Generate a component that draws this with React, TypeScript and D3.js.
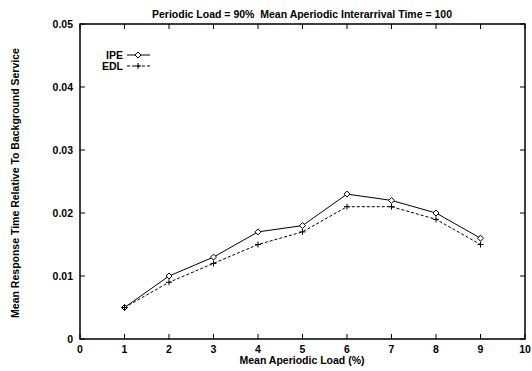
import React from "react";
import * as d3 from "d3";

const loads = [1, 2, 3, 4, 5, 6, 7, 8, 9];
const ipe = [0.005, 0.010, 0.013, 0.017, 0.018, 0.023, 0.022, 0.020, 0.016];
const edl = [0.005, 0.009, 0.012, 0.015, 0.017, 0.021, 0.021, 0.019, 0.015];
const xTicks = [0, 1, 2, 3, 4, 5, 6, 7, 8, 9, 10];
const yTicks = [0, 0.01, 0.02, 0.03, 0.04, 0.05];
const yTickLabels = ["0", "0.01", "0.02", "0.03", "0.04", "0.05"];

export default function App() {
  const W = 532, H = 371;
  const L = 80, R = 525, T = 24, B = 339;
  const x = d3.scaleLinear().domain([0, 10]).range([L, R]);
  const y = d3.scaleLinear().domain([0, 0.05]).range([B, T]);
  const line = d3.line<number>().x((_, i) => x(loads[i])).y((d) => y(d));
  const font = "'Liberation Sans', Arial, sans-serif";
  const fs = 10.5;
  const tl = 5;
  const diamond = (cx: number, cy: number, k: string) => (
    <path key={k} d={`M${cx - 3},${cy}L${cx},${cy - 3}L${cx + 3},${cy}L${cx},${cy + 3}Z`} fill="#fff" stroke="#000" strokeWidth={1} />
  );
  const plus = (cx: number, cy: number, k: string) => (
    <path key={k} d={`M${cx - 3},${cy}H${cx + 3}M${cx},${cy - 3}V${cy + 3}`} stroke="#000" strokeWidth={1} />
  );
  return (
    <svg width={W} height={H} style={{ position: "absolute", left: 0, top: 0 }} fontFamily={font} fontWeight="bold">
      <rect x={0} y={0} width={W} height={H} fill="#fff" />
      <text x={302} y={18} fontSize={fs} textAnchor="middle" xmlSpace="preserve" style={{ whiteSpace: "pre" }}>Periodic Load = 90%  Mean Aperiodic Interarrival Time = 100</text>
      {xTicks.map((t) => (
        <g key={"x" + t}>
          <line x1={x(t)} x2={x(t)} y1={B} y2={B - tl} stroke="#000" />
          <line x1={x(t)} x2={x(t)} y1={T} y2={T + tl} stroke="#000" />
          <text x={x(t)} y={353} fontSize={fs} textAnchor="middle">{t}</text>
        </g>
      ))}
      {yTicks.map((t, i) => (
        <g key={"y" + t}>
          <line x1={L} x2={L + tl} y1={y(t)} y2={y(t)} stroke="#000" />
          <line x1={R} x2={R - tl} y1={y(t)} y2={y(t)} stroke="#000" />
          <text x={73} y={y(t) + 3.5} fontSize={fs} textAnchor="end">{yTickLabels[i]}</text>
        </g>
      ))}
      <rect x={L} y={T} width={R - L} height={B - T} fill="none" stroke="#000" strokeWidth={1.5} />
      <text x={302} y={364} fontSize={fs} textAnchor="middle">Mean Aperiodic Load (%)</text>
      <text transform={`translate(19,183) rotate(-90)`} fontSize={fs} textAnchor="middle">Mean Response Time Relative To Background Service</text>
      <path d={line(ipe) || ""} fill="none" stroke="#000" strokeWidth={1} />
      <path d={line(edl) || ""} fill="none" stroke="#000" strokeWidth={1} strokeDasharray="3,2" />
      {ipe.map((v, i) => diamond(x(loads[i]), y(v), "d" + i))}
      {edl.map((v, i) => plus(x(loads[i]), y(v), "p" + i))}
      <text x={123} y={59} fontSize={fs} textAnchor="end">IPE</text>
      <line x1={127} x2={150} y1={55} y2={55} stroke="#000" />
      {diamond(138, 55, "ld")}
      <text x={123} y={70} fontSize={fs} textAnchor="end">EDL</text>
      <line x1={127} x2={150} y1={66} y2={66} stroke="#000" strokeDasharray="3,2" />
      {plus(138, 66, "lp")}
    </svg>
  );
}
